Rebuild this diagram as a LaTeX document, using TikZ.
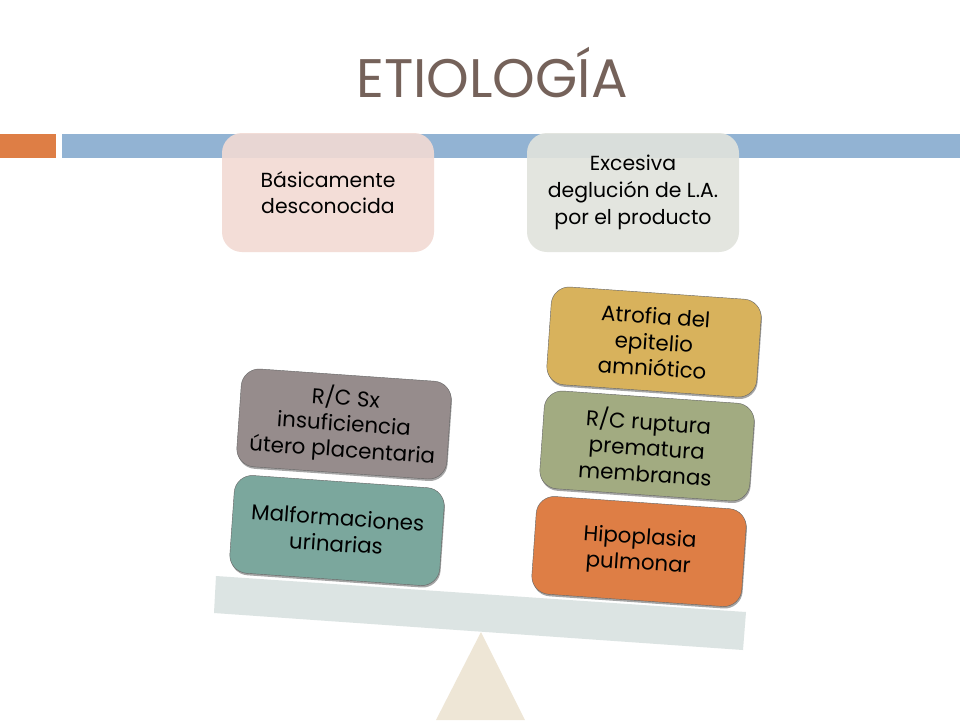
\documentclass[tikz,border=0pt]{standalone}
\usepackage{fontspec}
\setmainfont{Poppins}
\usetikzlibrary{shadows}
\definecolor{titlecol}{HTML}{75625A}
\definecolor{barblue}{HTML}{92B3D3}
\definecolor{barorange}{HTML}{DE7E45}
\definecolor{beamcol}{HTML}{DCE4E3}
\definecolor{pivotcol}{HTML}{EEE6D6}
\definecolor{pinkcol}{HTML}{F2DAD3}
\definecolor{greycol}{HTML}{E1E3DC}
\definecolor{tealcol}{HTML}{7BA79D}
\definecolor{mauvecol}{HTML}{968C8C}
\definecolor{goldcol}{HTML}{D8B25C}
\definecolor{olivecol}{HTML}{A2AB81}
\begin{document}
\begin{tikzpicture}[x=0.25mm,y=-0.25mm]
      \tikzstyle{every node}=[align=center,text=black,font=\fontsize{14.5}{19}\selectfont]
      \tikzstyle{topbox}=[rounded corners=5mm,fill opacity=.9,text opacity=1,minimum width=53mm,minimum height=29.75mm]
      \tikzstyle{weight}=[rounded corners=4.5mm,draw=black!60,line width=.3pt,rotate=-4,minimum width=52.6mm,minimum height=24.5mm,font=\fontsize{15.2}{18.4}\selectfont,drop shadow={shadow xshift=.2mm,shadow yshift=-.5mm,opacity=.7}]
      \useasboundingbox (0,0) rectangle (960,720);
      \fill[white] (0,0) rectangle (960,720);

      \fill[barorange] (0,134) rectangle (56,158);
      \fill[barblue] (62,134) rectangle (960,158);
      \node[text=titlecol,font=\fontsize{38.6}{44}\selectfont] (title) at (492,73) {ETIOLOGÍA};

      \node[topbox,fill=pinkcol] (basic) at (328,192.5) {Básicamente\\desconocida};
      \node[topbox,fill=greycol] (excess) at (633,192.5) {Excesiva\\deglución de L.A.\\por el producto};

      \fill[pivotcol] (481,632) -- (525,720) -- (436,720) -- cycle;
      \fill[beamcol] (216,576) -- (746,612) -- (743,650) -- (214,613) -- cycle;

      \node[weight,fill=tealcol] (urinary) at (337,530.5) {Malformaciones\\urinarias};
      \node[weight,fill=mauvecol] (placenta) at (344,424) {R/C Sx\\insuficiencia\\útero placentaria};
      \node[weight,fill=barorange] (lung) at (639,551.5) {Hipoplasia\\pulmonar};
      \node[weight,fill=olivecol] (rupture) at (647,446) {R/C ruptura\\prematura\\membranas};
      \node[weight,fill=goldcol] (atrophy) at (654,342) {Atrofia del\\epitelio\\amniótico};
    \end{tikzpicture}
\end{document}
